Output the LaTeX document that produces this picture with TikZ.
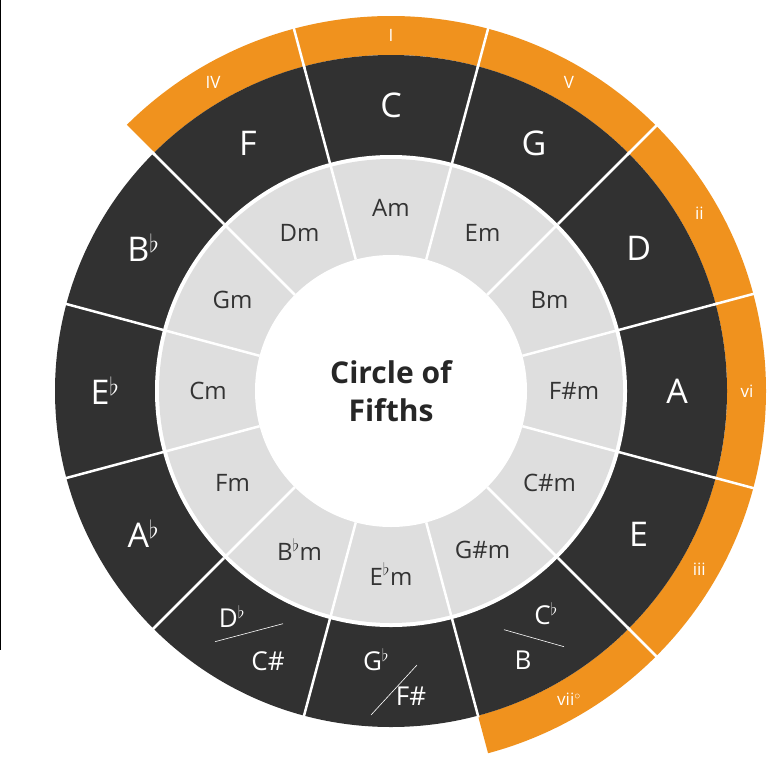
\documentclass[tikz,border=0pt]{standalone}
\usepackage{fontspec}
\setmainfont{Open Sans}
\begin{document}
\begin{tikzpicture}[x=1pt,y=1pt,
  maj/.style={text=white,font=\fontsize{34}{36}\selectfont},
  mino/.style={text=black!80,font=\fontsize{24}{26}\selectfont},
  num/.style={text=white,font=\fontsize{17}{19}\selectfont},
  sep/.style={white,line width=2.5pt}]
\definecolor{dark}{HTML}{313131}
\definecolor{light}{HTML}{DEDEDE}
\definecolor{orng}{HTML}{F0921E}
\useasboundingbox (0,0) rectangle (781,-779);
\fill[white] (0,0) rectangle (781,-779);
\draw[black,line width=1.5pt] (0.5,0) -- (0.5,-650);
\begin{scope}[shift={(391,-391)}]
% orange ring
\fill[orng] (135:375) arc (135:-75:375) -- (-75:336) arc (-75:135:336) -- cycle;
\fill[dark] (0,0) circle (336);
\fill[white] (0,0) circle (236);
\fill[light] (0,0) circle (232);
\fill[white] (0,0) circle (136);
\foreach \k in {0,...,11}{
  \pgfmathsetmacro\a{90-30*\k+15}
  \draw[sep] (\a:236) -- (\a:338);
  \draw[sep] (\a:136) -- (\a:233);
}
\foreach \k in {-1,...,5}{
  \pgfmathsetmacro\a{90-30*\k+15}
  \draw[sep] (\a:334) -- (\a:377);
}
% major
\foreach \k/\t in {0/C,1/G,2/D,3/A,4/E,9/E$^\flat$,10/B$^\flat$,11/F}{
  \node[maj] (M\k) at ({90-30*\k}:286) {\t};
}
\node[maj] (M8) at ({90-240}:286) {A$^\flat$};
% enharmonic
\begin{scope}[shift={(-60:286)}]
\node[text=white,font=\fontsize{26}{28}\selectfont] (cb) at (12,25) {C$^\flat$};
\node[text=white,font=\fontsize{26}{28}\selectfont] (bb) at (-11,-22) {B};
\draw[white,line width=0.6pt] (-30,9) -- (30,-8);
\end{scope}
\begin{scope}[shift={(-90:286)}]
\node[text=white,font=\fontsize{26}{28}\selectfont] (gb) at (-15,17) {G$^\flat$};
\node[text=white,font=\fontsize{26}{28}\selectfont] (fs) at (20,-19) {F\#};
\draw[white,line width=0.6pt] (-20,-38) -- (26,12);
\end{scope}
\begin{scope}[shift={(-120:286)}]
\node[text=white,font=\fontsize{26}{28}\selectfont] (db) at (-16,22) {D$^\flat$};
\node[text=white,font=\fontsize{26}{28}\selectfont] (cs) at (20,-23) {C\#};
\draw[white,line width=0.6pt] (-33,-3) -- (35,15);
\end{scope}
% minor
\foreach \k/\t in {0/Am,1/Em,2/Bm,3/F\#m,4/C\#m,5/G\#m,6/E$^\flat$m,7/B$^\flat$m,8/Fm,9/Cm,10/Gm,11/Dm}{
  \node[mino] (m\k) at ({90-30*\k}:183) {\t};
}
% numerals
\foreach \k/\t in {-1/IV,0/I,1/V,2/ii,3/vi,4/iii,5/vii$^\circ$}{
  \node[num] (n\k) at ({90-30*\k}:356) {\t};
}
\node[font=\bfseries\fontsize{30}{38}\selectfont,text=black!85,align=center] (ctr) at (0,0) {Circle of\\Fifths};
\end{scope}
\end{tikzpicture}
\end{document}
